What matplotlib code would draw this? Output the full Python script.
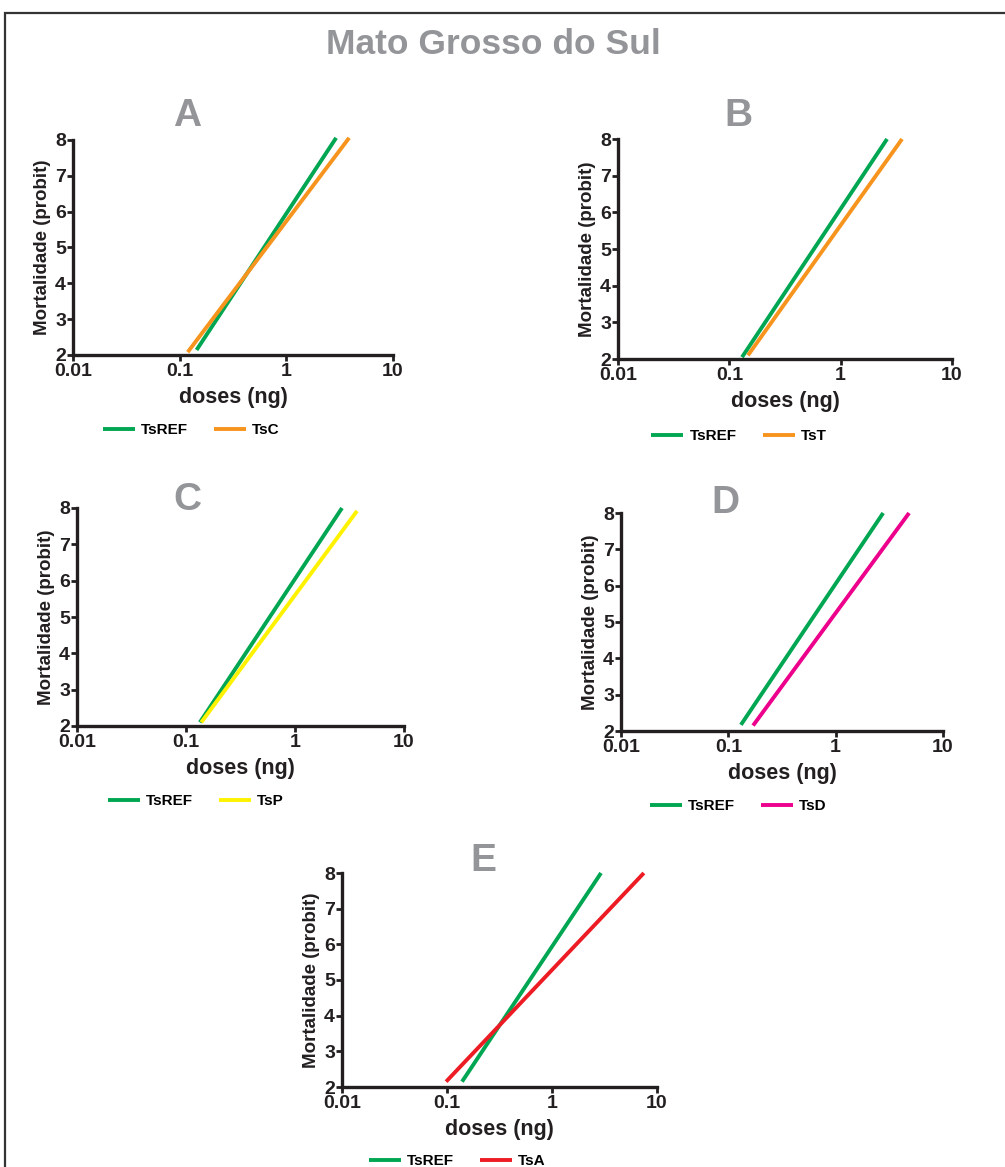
import matplotlib.pyplot as plt
from matplotlib.patches import Rectangle

W, H = 1005, 1167

# dose (ng) and probit end points of each fitted line
letters = ["A", "B", "C", "D", "E"]
other_names = ["TsC", "TsT", "TsP", "TsD", "TsA"]
other_colors = ["#f7941d", "#f7941d", "#fff200", "#ec008c", "#ed1c24"]

ref_dose = [[0.144, 2.93], [0.130, 2.61], [0.134, 2.70], [0.131, 2.77], [0.139, 2.93]]
ref_probit = [[2.14, 8.06], [2.05, 8.0], [2.1, 8.0], [2.17, 8.0], [2.15, 8.0]]
other_dose = [[0.119, 3.88], [0.147, 3.56], [0.138, 3.71], [0.170, 4.83], [0.098, 7.5]]
other_probit = [[2.08, 8.06], [2.1, 8.0], [2.1, 7.92], [2.15, 8.0], [2.15, 8.0]]

x_ticks = [0.01, 0.1, 1, 10]
x_labels = ["0.01", "0.1", "1", "10"]
y_ticks = [2, 3, 4, 5, 6, 7, 8]

# pixel boxes: left, right, top, bottom
boxes = [(73, 393, 140, 355), (618, 952, 139, 359), (77, 404, 508, 726),
         (621, 943, 513, 731), (342, 657, 873, 1087)]
letter_pos = [(187, 116), (738, 116), (187, 500), (725, 503), (483, 861)]
legend_pos = [(191, 430), (739, 436), (196, 801), (738, 806), (457, 1161)]

plt.rcParams['font.family'] = ['Liberation Sans', 'DejaVu Sans']
plt.rcParams['font.weight'] = 'bold'

fig = plt.figure(figsize=(W / 100, H / 100), dpi=100)
fig.patches.append(Rectangle((5 / W, -0.1), 1.2, 1 - 13 / H + 0.1, transform=fig.transFigure,
                             fill=False, edgecolor='#333333', linewidth=1.6))
fig.text(493 / W, 1 - 44 / H, "Mato Grosso do Sul", ha='center', va='center',
         fontsize=25.5, color='#939598', fontweight='bold')

grey = '#939598'
dark = '#231f20'
for i in range(5):
    l, r, t, b = boxes[i]
    ax = fig.add_axes([l / W, 1 - b / H, (r - l) / W, (b - t) / H])
    ax.plot(ref_dose[i], ref_probit[i], color='#00a651', lw=2.8, label='TsREF',
            solid_capstyle='butt', clip_on=False)
    ax.plot(other_dose[i], other_probit[i], color=other_colors[i], lw=2.8,
            label=other_names[i], solid_capstyle='butt', clip_on=False)
    ax.set_xscale('log')
    ax.set_xlim(0.01, 10)
    ax.set_ylim(2, 8)
    ax.set_xticks(x_ticks)
    ax.set_xticklabels(x_labels)
    ax.minorticks_off()
    ax.set_yticks(y_ticks)
    for s in ['top', 'right']:
        ax.spines[s].set_visible(False)
    for s in ['left', 'bottom']:
        ax.spines[s].set_linewidth(2.4)
        ax.spines[s].set_color(dark)
    ax.tick_params(axis='both', width=2, length=4, labelsize=14, color=dark,
                   labelcolor=dark, pad=1)
    ax.tick_params(axis='x', pad=2)
    ax.set_xlabel("doses (ng)", fontsize=15.5, fontweight='bold', color=dark, labelpad=5)
    ax.set_ylabel("Mortalidade (probit)", fontsize=13.5, fontweight='bold', color=dark, labelpad=3)
    lx, ly = letter_pos[i]
    fig.text(lx / W, 1 - ly / H, letters[i], ha='center', va='center', fontsize=28,
             fontweight='bold', color=grey)
    gx, gy = legend_pos[i]
    ax.legend(loc='center', bbox_to_anchor=(gx / W, 1 - gy / H), bbox_transform=fig.transFigure,
              ncol=2, frameon=False, handlelength=2.1, columnspacing=1.7, handletextpad=0.4,
              prop={'size': 11, 'weight': 'bold'})

fig.savefig("out.png", dpi=100)
